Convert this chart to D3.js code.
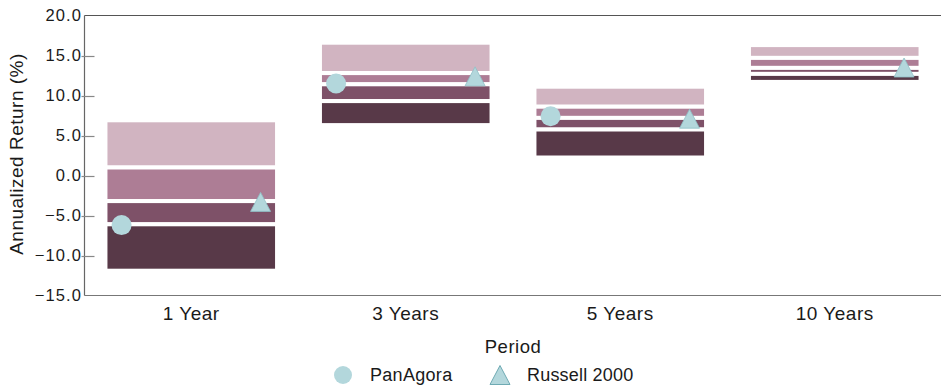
<!DOCTYPE html>
<html>
<head>
<meta charset="utf-8">
<script src="https://cdn.jsdelivr.net/npm/d3@7"></script>
<style>
  html, body { margin: 0; padding: 0; background: #fff; }
  svg { display: block; font-family: "Liberation Sans", Arial, sans-serif; }
</style>
</head>
<body>
<svg id="chart" width="941" height="387"></svg>
<script>
const periods = ["1 Year", "3 Years", "5 Years", "10 Years"];
const p95 = [6.9, 16.6, 11.1, 16.3];
const p75 = [1.0, 12.8, 8.6, 14.7];
const p50 = [-3.2, 11.4, 7.2, 13.45];
const p25 = [-6.1, 9.3, 5.75, 12.7];
const p05 = [-11.9, 6.3, 2.25, 11.7];
const panagora = [-6.2, 11.5, 7.4, null];
const russell = [-3.3, 12.4, 7.1, 13.5];
const yTicks = [20, 15, 10, 5, 0, -5, -10, -15];
const seriesNames = ["PanAgora", "Russell 2000"];

const bandColors = ["#d1b4c1", "#ad7d95", "#7e5168", "#583948"];
const markerFill = "#b3d7dc";
const markerStroke = "#8fc0c7";
const textColor = "#1a1a1a";

const svg = d3.select("#chart");
const plotLeft = 84.5, plotTop = 15.5, plotBottom = 295.5;

const x = d3.scaleBand().domain(periods).range([84, 942]).paddingInner(0.2).paddingOuter(0.1);
const y = d3.scaleLinear().domain([-15, 20]).range([plotBottom, plotTop]);

// bands
const g = svg.append("g");
periods.forEach((p, i) => {
  const bounds = [p95[i], p75[i], p50[i], p25[i], p05[i]];
  for (let k = 0; k < 4; k++) {
    g.append("rect")
      .attr("x", x(p))
      .attr("width", x.bandwidth())
      .attr("y", y(bounds[k]))
      .attr("height", y(bounds[k + 1]) - y(bounds[k]))
      .attr("fill", bandColors[k])
      .attr("stroke", "#fff")
      .attr("stroke-width", 4);
  }
});

// axes lines
svg.append("line").attr("x1", plotLeft).attr("x2", 941).attr("y1", plotTop).attr("y2", plotTop)
  .attr("stroke", "#555").attr("stroke-width", 1.2);
svg.append("line").attr("x1", plotLeft).attr("x2", 941).attr("y1", plotBottom).attr("y2", plotBottom)
  .attr("stroke", "#777").attr("stroke-width", 1.2);
svg.append("line").attr("x1", plotLeft).attr("x2", plotLeft).attr("y1", plotTop).attr("y2", plotBottom)
  .attr("stroke", "#666").attr("stroke-width", 1.2);

// y ticks
const yAxis = svg.append("g");
yTicks.forEach(t => {
  if (t !== 20 && t !== -15) {
    yAxis.append("line").attr("x1", plotLeft - 3).attr("x2", plotLeft + 10)
      .attr("y1", Math.round(y(t)) + 0.5).attr("y2", Math.round(y(t)) + 0.5)
      .attr("stroke", "#888").attr("stroke-width", 1.2);
  }
  yAxis.append("text").attr("x", 82).attr("y", y(t)).attr("dy", "0.36em")
    .attr("text-anchor", "end").attr("font-size", 16.5).attr("letter-spacing", 1.1)
    .attr("fill", textColor).text(d3.format(".1f")(t));
});

// x labels
periods.forEach(p => {
  svg.append("text").attr("x", x(p) + x.bandwidth() / 2).attr("y", 320)
    .attr("text-anchor", "middle").attr("font-size", 19).attr("letter-spacing", 0.5)
    .attr("fill", textColor).text(p);
});

// axis titles
svg.append("text").attr("x", 513).attr("y", 353).attr("text-anchor", "middle")
  .attr("font-size", 18.5).attr("letter-spacing", 0.5).attr("fill", textColor).text("Period");
svg.append("text").attr("transform", "translate(23,154) rotate(-90)")
  .attr("text-anchor", "middle").attr("font-size", 19).attr("letter-spacing", 0.5)
  .attr("fill", textColor).text("Annualized Return (%)");

function triPath(cx, cy) {
  return `M${cx},${cy - 9.5}L${cx + 10},${cy + 9.5}L${cx - 10},${cy + 9.5}Z`;
}

// markers
periods.forEach((p, i) => {
  if (panagora[i] !== null) {
    svg.append("circle").attr("cx", x(p) + x.bandwidth() * 0.094).attr("cy", y(panagora[i]))
      .attr("r", 10).attr("fill", markerFill);
  }
  if (russell[i] !== null) {
    svg.append("path").attr("d", triPath(x(p) + x.bandwidth() * 0.904, y(russell[i])))
      .attr("fill", markerFill).attr("stroke", markerStroke).attr("stroke-width", 0.8);
  }
});

// legend
const lg = svg.append("g");
lg.append("circle").attr("cx", 343).attr("cy", 375).attr("r", 9).attr("fill", markerFill);
lg.append("text").attr("x", 370).attr("y", 375).attr("dy", "0.36em").attr("font-size", 18)
  .attr("letter-spacing", 0.3).attr("fill", textColor).text(seriesNames[0]);
lg.append("path").attr("d", triPath(500, 375)).attr("fill", markerFill)
  .attr("stroke", "#6faab3").attr("stroke-width", 1);
lg.append("text").attr("x", 527).attr("y", 375).attr("dy", "0.36em").attr("font-size", 18)
  .attr("letter-spacing", 0.2).attr("fill", textColor).text(seriesNames[1]);
</script>
</body>
</html>
